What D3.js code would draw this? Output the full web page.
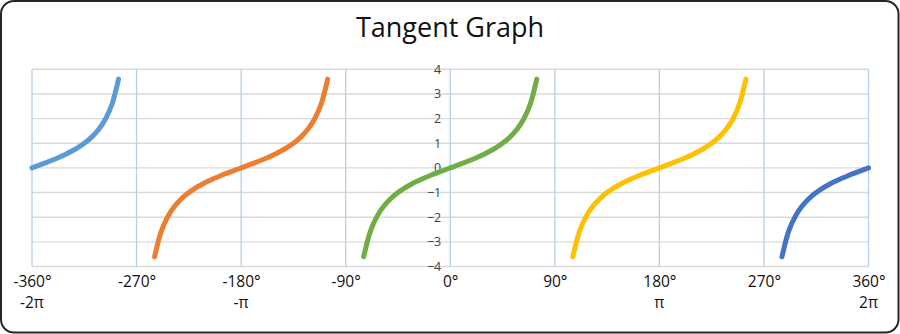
<!DOCTYPE html>
<html>
<head>
<meta charset="utf-8">
<script src="https://cdn.jsdelivr.net/npm/d3@7/dist/d3.min.js"></script>
<style>
  html, body { margin: 0; padding: 0; background: #fff; }
  svg { display: block; }
</style>
</head>
<body>
<svg id="chart" width="900" height="334"></svg>
<script>
// Angle offsets (radians) from each branch centre, and tan() at those offsets
const offsets   = [-1.3, -1.2, -1.1, -1.0, -0.9, -0.8, -0.7, -0.6, -0.5, -0.4, -0.3, -0.2, -0.1, 0,
                   0.1, 0.2, 0.3, 0.4, 0.5, 0.6, 0.7, 0.8, 0.9, 1.0, 1.1, 1.2, 1.3];
const tanValues = [-3.602, -2.572, -1.965, -1.557, -1.260, -1.030, -0.842, -0.684, -0.546, -0.423, -0.309, -0.203, -0.100, 0,
                   0.100, 0.203, 0.309, 0.423, 0.546, 0.684, 0.842, 1.030, 1.260, 1.557, 1.965, 2.572, 3.602];

// Branch centres in multiples of π, with the slice of offsets each branch uses
const branchCentres = [-2, -1, 0, 1, 2];
const branchFrom    = [13, 0, 0, 0, 0];
const branchTo      = [26, 26, 26, 26, 13];
const branchColors  = ["#5b9bd5", "#ed7d31", "#70ad47", "#ffc000", "#4472c4"];

// Axis ticks
const xTicksDeg   = [-360, -270, -180, -90, 0, 90, 180, 270, 360];
const xTicksPi    = ["-2π", "", "-π", "", "", "", "π", "", "2π"];
const yTicks      = [-4, -3, -2, -1, 0, 1, 2, 3, 4];

const svg = d3.select("#chart");
const W = 900, H = 334;

// frame
svg.append("rect")
  .attr("x", 1).attr("y", 1).attr("width", W - 2.5).attr("height", H - 2.5)
  .attr("rx", 13).attr("ry", 13)
  .attr("fill", "#fff").attr("stroke", "#262626").attr("stroke-width", 2);

// title
svg.append("text")
  .attr("x", 450).attr("y", 37)
  .attr("text-anchor", "middle")
  .attr("font-family", "'Open Sans', sans-serif")
  .attr("font-size", 27)
  .attr("fill", "#111")
  .text("Tangent Graph");

const x = d3.scaleLinear().domain([-360, 360]).range([32, 868.5]);
const y = d3.scaleLinear().domain([-4, 4]).range([266.5, 69.3]);

// horizontal gridlines
svg.append("g")
  .selectAll("line").data(yTicks).join("line")
  .attr("x1", x(-360)).attr("x2", x(360))
  .attr("y1", d => y(d)).attr("y2", d => y(d))
  .attr("stroke", "#d9d9d9").attr("stroke-width", 1.4);

// vertical gridlines
svg.append("g")
  .selectAll("line").data(xTicksDeg).join("line")
  .attr("x1", d => x(d)).attr("x2", d => x(d))
  .attr("y1", y(4)).attr("y2", y(-4))
  .attr("stroke", "#b7d0ea").attr("stroke-width", 1.3);

// y axis labels beside the 0° line
const yAxis = d3.axisLeft(y).tickValues(yTicks).tickSize(0).tickPadding(9).tickFormat(d3.format("d"));
const gy = svg.append("g").attr("transform", `translate(${x(0)},0)`).call(yAxis);
gy.select(".domain").remove();
gy.selectAll("text")
  .attr("font-family", "'Open Sans', sans-serif")
  .attr("font-size", 12.5)
  .attr("fill", "#404040");

// x axis labels (degrees and multiples of π)
const xAxis = d3.axisBottom(x).tickValues(xTicksDeg).tickSize(0).tickPadding(9).tickFormat(d => d + "°");
const gx = svg.append("g").attr("transform", `translate(0,${y(-4)})`).call(xAxis);
gx.select(".domain").remove();
gx.selectAll("text")
  .attr("font-family", "'Open Sans', sans-serif")
  .attr("font-size", 15.5)
  .attr("fill", "#111");

svg.append("g")
  .selectAll("text").data(xTicksDeg).join("text")
  .attr("x", d => x(d))
  .attr("y", 308)
  .attr("text-anchor", "middle")
  .attr("font-family", "'Open Sans', sans-serif")
  .attr("font-size", 15.5)
  .attr("fill", "#111")
  .text((d, i) => xTicksPi[i]);

// tangent branches
const toDeg = r => r * 180 / Math.PI;
const line = d3.line()
  .x(d => x(d[0]))
  .y(d => y(d[1]))
  .curve(d3.curveCatmullRom.alpha(0.5));

branchCentres.forEach((c, b) => {
  const pts = [];
  for (let i = branchFrom[b]; i <= branchTo[b]; i++) {
    pts.push([c * 180 + toDeg(offsets[i]), tanValues[i]]);
  }
  svg.append("path")
    .datum(pts)
    .attr("d", line)
    .attr("fill", "none")
    .attr("stroke", branchColors[b])
    .attr("stroke-width", 5)
    .attr("stroke-linecap", "round")
    .attr("stroke-linejoin", "round");
});
</script>
</body>
</html>
